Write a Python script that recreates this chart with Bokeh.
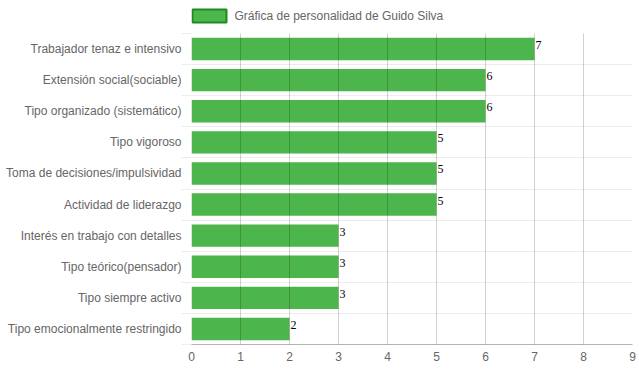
from bokeh.plotting import figure
from bokeh.layouts import column
from bokeh.models import Range1d, LinearAxis, FixedTicker, ColumnDataSource
from bokeh.core.properties import value
from bokeh.embed import file_html
from bokeh.resources import INLINE

categories = [
    "Trabajador tenaz e intensivo",
    "Extensión social(sociable)",
    "Tipo organizado (sistemático)",
    "Tipo vigoroso",
    "Toma de decisiones/impulsividad",
    "Actividad de liderazgo",
    "Interés en trabajo con detalles",
    "Tipo teórico(pensador)",
    "Tipo siempre activo",
    "Tipo emocionalmente restringido",
]
scores = [7, 6, 6, 5, 5, 5, 3, 3, 3, 2]
x_ticks = list(range(0, 10))
series_name = "Gráfica de personalidad de Guido Silva"

n = len(categories)
ypos = [n - 0.5 - i for i in range(n)]
bounds = list(range(0, n + 1))

BAR_FILL = "#4cb54c"
FRAME_L, FRAME_R = 191, 632   # frame edges shared by both plots in the column

src = ColumnDataSource(dict(y=ypos, right=scores, label=[str(s) for s in scores]))

# ---- legend strip (top 33 px); its frame is aligned with the main frame ----
H = 33
lf = figure(width=639, height=H, output_backend="svg", toolbar_location=None,
            x_range=Range1d(FRAME_L, FRAME_R), y_range=Range1d(H, 0),
            x_axis_location=None, y_axis_location=None,
            min_border_left=FRAME_L, min_border_right=639 - FRAME_R,
            min_border_top=0, min_border_bottom=0)
lf.outline_line_color = None
lf.xgrid.visible = False
lf.ygrid.visible = False
lf.background_fill_color = "white"
lf.border_fill_color = "white"
lf.quad(left=[192], right=[226], top=[9], bottom=[22],
        fill_color=BAR_FILL, line_color="#1e8c1e", line_width=2)
lf.text(x=[234], y=[15.5], text=[series_name], text_align="left",
        text_baseline="middle", text_font=value("Liberation Sans"),
        text_font_size="12px", text_color="#666666")

# ---- main chart ----
p = figure(width=639, height=339, output_backend="svg", toolbar_location=None,
           x_range=Range1d(0, 9), y_range=Range1d(0, n),
           y_axis_location=None,
           min_border_left=FRAME_L, min_border_right=639 - FRAME_R,
           min_border_top=0, min_border_bottom=28)
p.outline_line_color = None
p.background_fill_color = "white"
p.border_fill_color = "white"

p.hbar(y="y", right="right", left=0, height=0.72, source=src,
       fill_color=BAR_FILL, line_color=None)

p.text(x="right", y="y", text="label", source=src, text_align="left",
       text_baseline="middle", y_offset=-4, x_offset=1,
       text_font=value("Liberation Serif"), text_font_size="12px",
       text_color="black")

xa = p.xaxis[0]
xa.ticker = FixedTicker(ticks=x_ticks)
xa.axis_line_color = "#b4b4b4"
xa.major_tick_out = 0
xa.major_tick_in = 0
xa.minor_tick_line_color = None
xa.major_label_standoff = 7
xa.major_label_text_font = "Liberation Sans"
xa.major_label_text_font_size = "12px"
xa.major_label_text_color = "#666666"

p.xgrid.ticker = FixedTicker(ticks=x_ticks)
p.xgrid.grid_line_color = "black"
p.xgrid.grid_line_alpha = 0.18
p.xgrid.level = "overlay"

p.ygrid.ticker = FixedTicker(ticks=bounds)
p.ygrid.grid_line_color = "black"
p.ygrid.grid_line_alpha = 0.07

label_axis = LinearAxis(ticker=FixedTicker(ticks=ypos, minor_ticks=bounds),
                        major_label_overrides={y: c for y, c in zip(ypos, categories)},
                        major_tick_out=0, major_tick_in=0,
                        minor_tick_out=10, minor_tick_in=0,
                        minor_tick_line_color="black", minor_tick_line_alpha=0.07,
                        axis_line_color=None,
                        major_label_standoff=0,
                        major_label_text_font="Liberation Sans",
                        major_label_text_font_size="12px",
                        major_label_text_color="#666666")
p.add_layout(label_axis, "left")

layout = column(lf, p, spacing=0)
open("out.html", "w").write(file_html(layout, INLINE))
